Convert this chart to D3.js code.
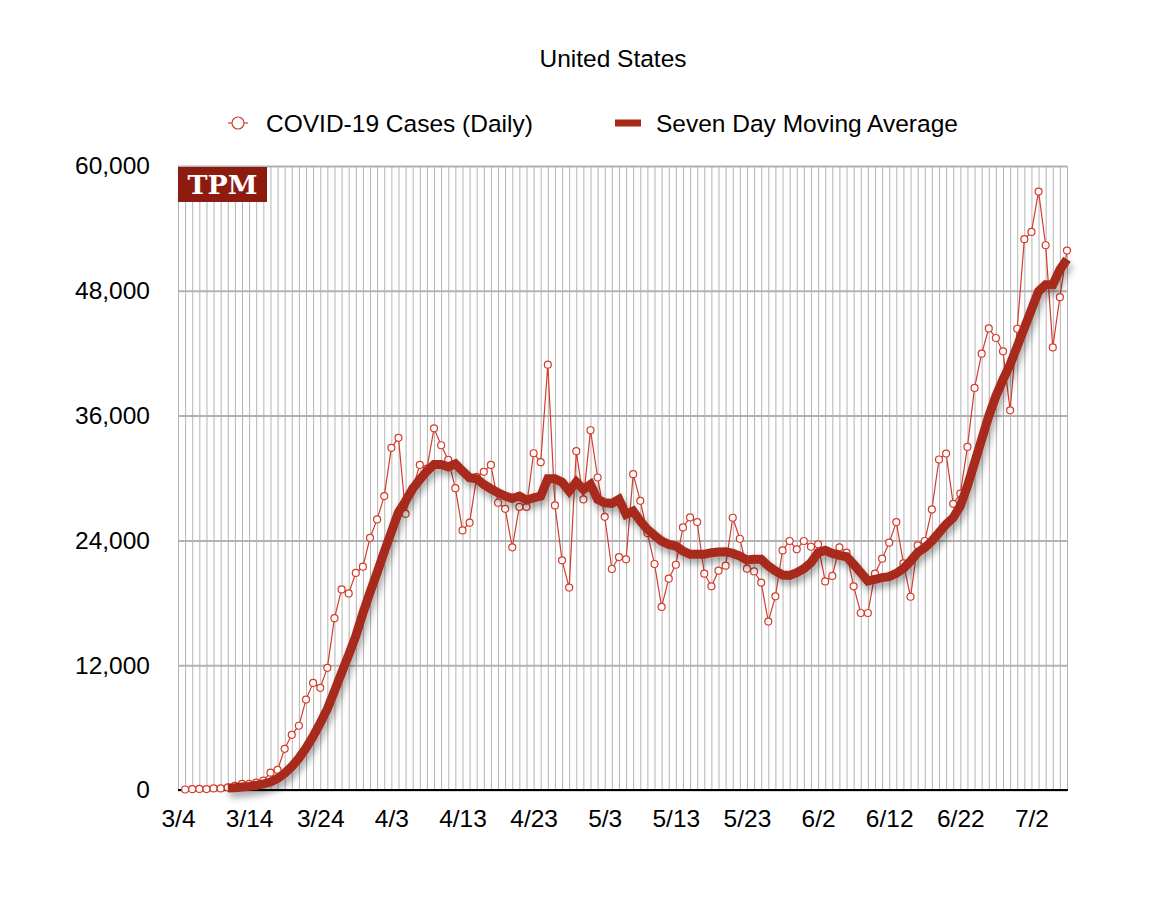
<!DOCTYPE html>
<html>
<head>
<meta charset="utf-8">
<script src="https://cdn.jsdelivr.net/npm/d3@7"></script>
<style>
  body { margin: 0; background: #fff; }
</style>
</head>
<body>
<div id="canvas"></div>
<script>
// daily cases, 3/5 .. 7/7
const daily = [
  50, 80, 100, 90, 150, 150, 250, 400, 580, 580,
  700, 900, 1670, 1930, 3960, 5310, 6180, 8690, 10300, 9820,
  11750, 16520, 19290, 18900, 20870, 21470, 24250, 26020, 28260, 32900,
  33860, 26560, 29000, 31260, 30900, 34780, 33150, 31740, 29020, 24960,
  25700, 30110, 30590, 31260, 27620, 27040, 23330, 27230, 27230, 32380,
  31520, 40900, 27360, 22080, 19460, 32580, 27940, 34590, 30050, 26270,
  21250, 22400, 22180, 30370, 27810, 24700, 21730, 17600, 20320, 21660,
  25250, 26210, 25760, 20800, 19580, 21090, 21570, 26180, 24160, 21280,
  21020, 19940, 16190, 18620, 23040, 23940, 23140, 23940, 23390, 23620,
  20060, 20580, 23330, 22820, 19580, 17020, 17020, 20800, 22240, 23780,
  25760, 21790, 18580, 23520, 23940, 26980, 31780, 32350, 27520, 28500,
  32990, 38660, 41950, 44380, 43460, 42180, 36510, 44350, 52960, 53660,
  57540, 52380, 42560, 47390, 51870
];

// seven day moving average, 3/11 .. 7/7
const weekAvg = [
  190, 220, 290, 350, 450, 580, 770, 1090, 1610, 2250,
  3060, 4030, 5150, 6440, 7790, 9500, 11270, 13000, 14800, 17000,
  19000, 20900, 22900, 24800, 26700, 27780, 28960, 29860, 30660, 31300,
  31300, 31070, 31360, 30660, 30020, 29920, 29380, 28960, 28580, 28260,
  28030, 28260, 27870, 28100, 28260, 29920, 29920, 29600, 28740, 29600,
  28900, 29380, 27940, 27620, 27550, 27940, 26500, 26820, 25860, 25060,
  24480, 23940, 23620, 23460, 22980, 22660, 22660, 22660, 22820, 22880,
  22900, 22750, 22500, 22110, 22180, 22180, 21540, 21060, 20670, 20640,
  20900, 21280, 21860, 22820, 23040, 22750, 22560, 22430, 21700, 20900,
  20100, 20260, 20420, 20510, 20830, 21300, 22000, 22820, 23300, 23940,
  24740, 25540, 26180, 27300, 29220, 31460, 33700, 35940, 37860, 39460,
  40900, 42660, 44420, 46180, 47940, 48580, 48580, 50020, 51040
];

const xTickLabels = ["3/4", "3/14", "3/24", "4/3", "4/13", "4/23", "5/3", "5/13", "5/23", "6/2", "6/12", "6/22", "7/2"];
const yTicks = [0, 12000, 24000, 36000, 48000, 60000];

const parse = d3.timeParse("%m/%d/%Y");
const firstDay = parse("3/4/2020");
const lastDay = parse("7/7/2020");
const dailyDays = d3.timeDay.range(parse("3/5/2020"), d3.timeDay.offset(lastDay, 1));
const avgDays = d3.timeDay.range(parse("3/11/2020"), d3.timeDay.offset(lastDay, 1));

const sans = "'Liberation Sans', Arial, Helvetica, sans-serif";
const fontSize = 24.5;

const width = 1166;
const height = 912;
const margin = { top: 166, left: 178, bottom: 122, right: 99 };
const iwidth = width - margin.left - margin.right;
const iheight = height - margin.top - margin.bottom;

const svg = d3.select("#canvas").append("svg")
  .attr("width", width)
  .attr("height", height)
  .style("font-family", sans);

const defs = svg.append("defs");
const shadow = defs.append("filter").attr("id", "shadow")
  .attr("x", "-10%").attr("y", "-10%").attr("width", "120%").attr("height", "130%");
shadow.append("feDropShadow")
  .attr("dx", 2).attr("dy", 5).attr("stdDeviation", 3.5)
  .attr("flood-color", "#000").attr("flood-opacity", 0.35);

const x = d3.scaleTime()
  .domain([firstDay, lastDay])
  .range([0, iwidth]);

const y = d3.scaleLinear()
  .domain([0, 60000])
  .range([iheight, 0]);

const g = svg.append("g").attr("transform", `translate(${margin.left},${margin.top})`);

// one vertical grid line per day
g.append("g")
  .classed("x--grid", true)
  .call(d3.axisBottom(x).ticks(d3.timeDay.every(1)).tickSize(-iheight).tickFormat(""))
  .attr("transform", `translate(0, ${iheight})`)
  .call(a => a.select(".domain").remove())
  .call(a => a.selectAll("line").attr("stroke", "#b4b4b4").attr("stroke-width", 1));

g.append("g")
  .classed("y--grid", true)
  .call(d3.axisLeft(y).tickValues(yTicks).tickSize(-iwidth).tickFormat(""))
  .call(a => a.select(".domain").remove())
  .call(a => a.selectAll("line").attr("stroke", "#b2b2b2").attr("stroke-width", 2));

// y labels
g.append("g")
  .classed("y--axis", true)
  .call(d3.axisLeft(y).tickValues(yTicks).tickSize(0).tickPadding(28).tickFormat(d3.format(",")))
  .call(a => a.select(".domain").remove())
  .call(a => a.selectAll("text")
    .style("font-size", fontSize + "px").style("font-family", sans).attr("fill", "#000"));

// x labels, every 10 days from 3/4
const xTickDates = xTickLabels.map(s => parse(s + "/2020"));
g.append("g")
  .classed("x--axis", true)
  .attr("transform", `translate(0, ${iheight})`)
  .call(d3.axisBottom(x).tickValues(xTickDates).tickSize(0).tickPadding(20).tickFormat((d, i) => xTickLabels[i]))
  .call(a => a.select(".domain").remove())
  .call(a => a.selectAll("text")
    .style("font-size", fontSize + "px").style("font-family", sans).attr("fill", "#000"));

g.append("line")
  .attr("x1", 0).attr("x2", iwidth + 1)
  .attr("y1", iheight).attr("y2", iheight)
  .attr("stroke", "#000").attr("stroke-width", 2);

// daily series
const dailyLine = d3.line()
  .x((d, i) => x(dailyDays[i]))
  .y(d => y(d));

g.append("path")
  .datum(daily)
  .attr("fill", "none")
  .attr("stroke", "#d63b2b")
  .attr("stroke-width", 1.2)
  .attr("d", dailyLine);

g.selectAll("circle.pt").data(daily).enter().append("circle")
  .attr("class", "pt")
  .attr("cx", (d, i) => x(dailyDays[i]))
  .attr("cy", d => y(d))
  .attr("r", 3.5)
  .attr("fill", "#fff")
  .attr("stroke", "#d63b2b")
  .attr("stroke-width", 1.2);

// moving average
const avgLine = d3.line()
  .x((d, i) => x(avgDays[i]))
  .y(d => y(d));

g.append("path")
  .datum(weekAvg)
  .attr("fill", "none")
  .attr("stroke", "#a82a1b")
  .attr("stroke-width", 9)
  .attr("stroke-linejoin", "miter")
  .attr("filter", "url(#shadow)")
  .attr("d", avgLine);

// TPM badge
g.append("rect")
  .attr("x", 0).attr("y", 1)
  .attr("width", 89).attr("height", 35)
  .attr("fill", "#8e1b10");
g.append("text")
  .attr("x", 44.5).attr("y", 28)
  .attr("text-anchor", "middle")
  .style("font-family", "'DejaVu Serif', 'Liberation Serif', serif")
  .style("font-weight", "bold")
  .style("font-size", "26px")
  .attr("textLength", 70)
  .attr("lengthAdjust", "spacingAndGlyphs")
  .attr("fill", "#fff")
  .text("TPM");

// title
svg.append("text")
  .attr("x", 613).attr("y", 67)
  .attr("text-anchor", "middle")
  .style("font-size", fontSize + "px")
  .text("United States");

// legend
const leg = svg.append("g").attr("transform", "translate(0,123)");
leg.append("line")
  .attr("x1", 228).attr("x2", 248).attr("y1", 0).attr("y2", 0)
  .attr("stroke", "#d63b2b").attr("stroke-width", 1.2);
leg.append("circle")
  .attr("cx", 238).attr("cy", 0).attr("r", 6)
  .attr("fill", "#fff").attr("stroke", "#d63b2b").attr("stroke-width", 1.2);
leg.append("text")
  .attr("x", 266).attr("y", 9)
  .style("font-size", fontSize + "px")
  .text("COVID-19 Cases (Daily)");
leg.append("line")
  .attr("x1", 615).attr("x2", 641).attr("y1", 0).attr("y2", 0)
  .attr("stroke", "#a82a1b").attr("stroke-width", 7);
leg.append("text")
  .attr("x", 656).attr("y", 9)
  .style("font-size", fontSize + "px")
  .text("Seven Day Moving Average");
</script>
</body>
</html>
